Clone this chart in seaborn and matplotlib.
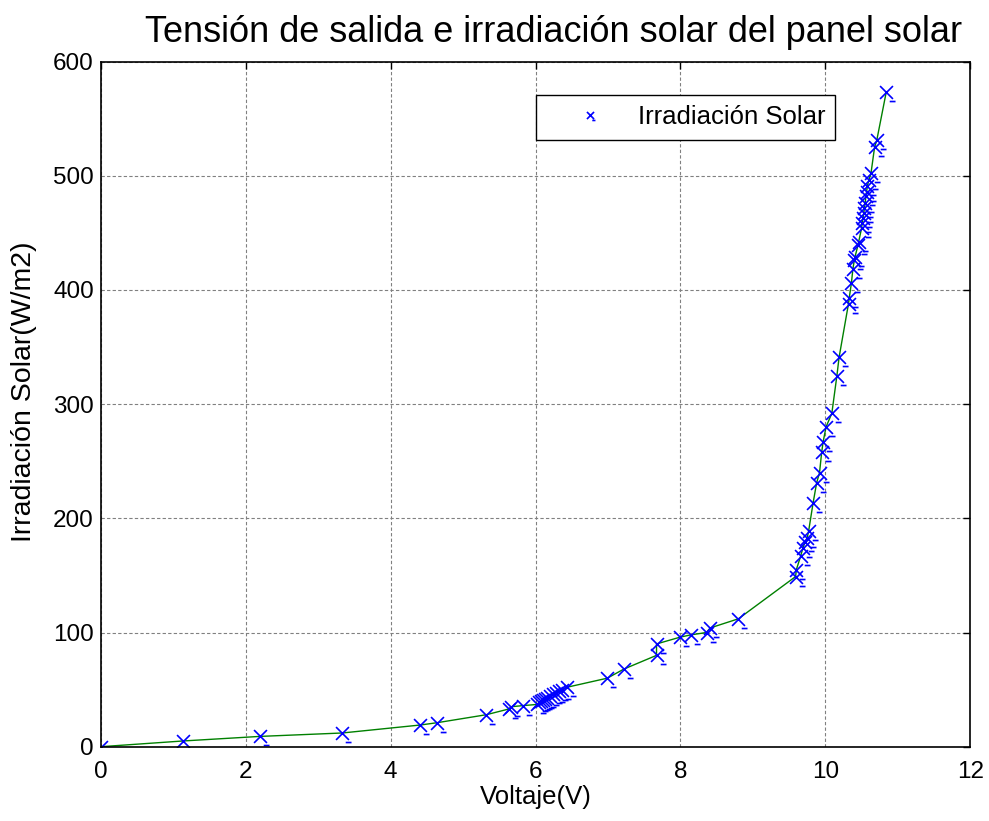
import numpy as np
import pandas as pd
import matplotlib
matplotlib.use('Agg')
import matplotlib.pyplot as plt
import seaborn as sns
from matplotlib.path import Path

# Data ------------------------------------------------------------------------
voltaje = [0.00, 1.13, 2.19, 3.33, 4.41, 4.64, 5.32, 5.63, 5.66, 5.83,
           6.02, 6.05, 6.08, 6.10, 6.13, 6.16, 6.20, 6.24, 6.28, 6.32, 6.37, 6.43,
           6.99, 7.22, 7.67, 7.67, 8.00, 8.15, 8.36, 8.41, 8.80,
           9.59, 9.60, 9.66, 9.69, 9.72, 9.75, 9.77, 9.83, 9.88, 9.92, 9.95,
           9.97, 10.01, 10.09, 10.16, 10.19,
           10.32, 10.33, 10.36, 10.38, 10.40, 10.41, 10.45, 10.46, 10.50, 10.51,
           10.52, 10.53, 10.54, 10.55, 10.56, 10.57, 10.58, 10.60, 10.63, 10.68,
           10.71, 10.84]
irradiacion = [0, 5, 9, 12, 19, 21, 28, 33, 35, 36,
               37, 39, 40, 41, 42, 43, 44, 46, 47, 49, 50, 52,
               60, 68, 80, 90, 96, 98, 100, 104, 112,
               149, 155, 167, 174, 179, 183, 189, 213, 231, 240, 258,
               267, 280, 292, 325, 341,
               388, 393, 406, 418, 426, 429, 439, 442, 454, 459,
               463, 467, 472, 476, 482, 486, 491, 496, 502, 525,
               531, 573]
x_ticks = [0, 2, 4, 6, 8, 10, 12]
y_ticks = [0, 100, 200, 300, 400, 500, 600]

df = pd.DataFrame({'Voltaje': voltaje, 'Irradiacion': irradiacion})

# Style -------------------------------------------------------------------------
sns.set_style('white')
plt.rcParams['font.family'] = ['Liberation Sans', 'DejaVu Sans']
plt.rcParams['text.color'] = 'black'
plt.rcParams['axes.labelcolor'] = 'black'
plt.rcParams['xtick.color'] = 'black'
plt.rcParams['ytick.color'] = 'black'

# 'x' marker with the little dash seen in the exported figure
marker_path = Path(
    [(-1, -1), (1, 1), (-1, 1), (1, -1), (0.5, -1.4), (1.4, -1.4)],
    [Path.MOVETO, Path.LINETO, Path.MOVETO, Path.LINETO, Path.MOVETO, Path.LINETO])

fig = plt.figure(figsize=(9.89, 8.21), dpi=100)
ax = fig.add_axes([0.102, 0.0905, 0.879, 0.8345])

sns.lineplot(data=df, x='Voltaje', y='Irradiacion', sort=False, estimator=None,
             color='#008000', linewidth=1.0, ax=ax)
sns.lineplot(data=df, x='Voltaje', y='Irradiacion', sort=False, estimator=None,
             linestyle='none', marker=marker_path, markersize=13,
             markeredgecolor='#0000ff', markerfacecolor='none',
             markeredgewidth=1.2, color='#0000ff',
             label='Irradiación Solar', ax=ax)

ax.set_xlim(0, 12)
ax.set_ylim(0, 600)
ax.set_xticks(x_ticks)
ax.set_yticks(y_ticks)
ax.grid(True, color='#808080', linestyle=(0, (3, 2)), linewidth=0.8)
ax.tick_params(direction='in', top=True, right=True, labelsize=17.5,
               length=5, width=1, color='black')
ax.tick_params(axis='x', pad=10)
ax.tick_params(axis='y', pad=5)
for s in ax.spines.values():
    s.set_color('black')
    s.set_linewidth(1.2)

ax.set_xlabel('Voltaje(V)', fontsize=18.5, labelpad=2)
ax.set_ylabel('Irradiación Solar(W/m2)', fontsize=20.5)
ax.yaxis.set_label_coords(-0.074, 0.518)
ax.set_title('Tensión de salida e irradiación solar del panel solar',
             fontsize=26, pad=14, x=0.521)

leg = ax.legend(loc='upper right', bbox_to_anchor=(0.845, 0.951),
                fontsize=18.5, markerscale=0.55, fancybox=False, framealpha=1,
                edgecolor='black', borderpad=0.4, handletextpad=0.15,
                handlelength=3.4, borderaxespad=0)
leg.get_frame().set_linewidth(1.0)

fig.savefig('out.png', dpi=100)
